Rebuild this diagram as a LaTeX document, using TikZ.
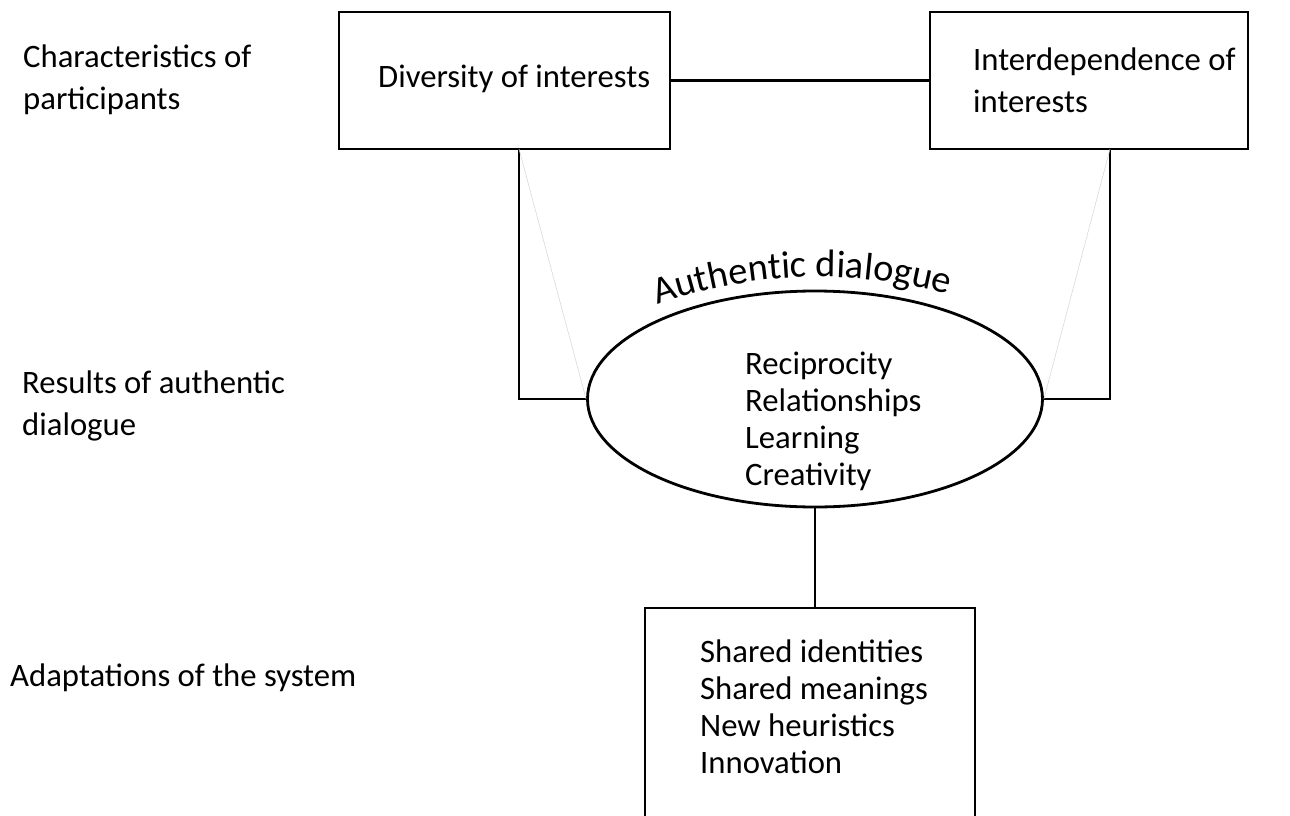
\documentclass[tikz,border=0pt]{standalone}
\usepackage{fontspec}
\setmainfont{Carlito}
\usetikzlibrary{shapes.geometric,decorations.text}

\begin{document}
\begin{tikzpicture}[x=1pt,y=-1pt,
  box/.style={draw, rectangle, line width=2.8pt, inner sep=0pt},
  oval/.style={draw, ellipse, line width=2.8pt, inner sep=0pt},
  link/.style={line width=2.8pt},
  faint/.style={draw=gray!30, line width=0.6pt},
  lbl/.style={font=\fontsize{32.7}{42}\selectfont, align=left, anchor=west, inner sep=0pt},
  list/.style={font=\fontsize{32.7}{37}\selectfont, align=left, anchor=west, inner sep=0pt}]
\useasboundingbox (0,0) rectangle (1290,816);
\clip (0,0) rectangle (1290,816);

% row labels on the left
\node[lbl] (rowA) at (23,80)  {Characteristics of\\participants};
\node[lbl] (rowB) at (22,406) {Results of authentic\\dialogue};
\node[lbl] (rowC) at (10,678) {Adaptations of the system};

% boxes and the dialogue ellipse
\node[box, minimum width=331pt, minimum height=137pt] (div) at (504.5,80.5) {};
\node[lbl] (divt) at (378,79) {Diversity of interests};
\node[box, minimum width=318pt, minimum height=137pt] (idp) at (1089,80.5) {};
\node[lbl] (idpt) at (973,80) {Interdependence of\\interests};
\node[oval, minimum width=455pt, minimum height=216pt] (dlg) at (815,399) {};
\node[list] (dlgt) at (745,421) {Reciprocity\\Relationships\\Learning\\Creativity};
\node[box, minimum width=330pt, minimum height=222pt] (adp) at (810,719) {};
\node[list] (adpt) at (700,707) {Shared identities\\Shared meanings\\New heuristics\\Innovation};

% curved title over the ellipse
\coordinate (arcc) at (819,762);
\path[decorate, decoration={text along path, text align=center,
  text={|\fontsize{38.5}{42}\selectfont|Authentic dialogue}}]
  (arcc) ++(249:485)
  arc[start angle=249, end angle=287, radius=485];

% connectors
\coordinate (divfoot) at (519,149);
\coordinate (idpfoot) at (1110,149);
\draw[link] (div.east) -- (idp.west);
\draw[link] (divfoot) |- (dlg.west);
\draw[link] (idpfoot) |- (dlg.east);
\draw[link] (dlg.south) -- (dlg.south |- adp.north);
\draw[faint] (divfoot) -- (dlg.west);
\draw[faint] (idpfoot) -- (dlg.east);
\end{tikzpicture}
\end{document}
